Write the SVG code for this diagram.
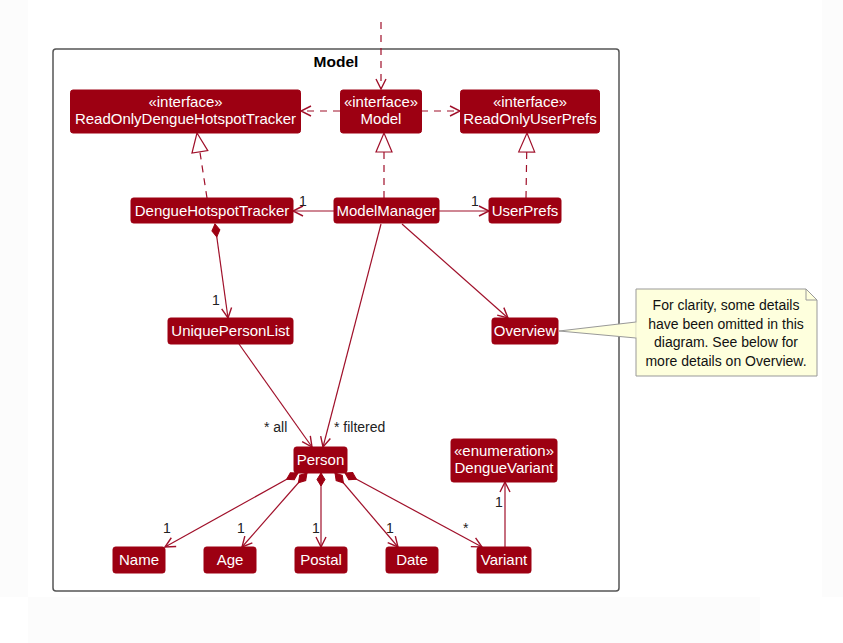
<svg xmlns="http://www.w3.org/2000/svg" width="843" height="643" viewBox="0 0 843 643">
<style>
.n rect{fill:#9D0012;stroke:#9D0012;stroke-width:1}
.n text{fill:#ffffff;font-family:"Liberation Sans",Arial,sans-serif;font-size:15px;text-anchor:middle}
.e{stroke:#A0102A;stroke-width:1.2;fill:none}
.d{stroke-dasharray:7,6}
.ar{marker-end:url(#arr)}
.lb{fill:#222;font-family:"Liberation Sans",Arial,sans-serif;font-size:14px}
</style>
<defs>
<marker id="arr" markerUnits="userSpaceOnUse" orient="auto" refX="0" refY="0" markerWidth="12" markerHeight="12" overflow="visible"><path d="M-10,-5 L0,0 L-10,5" fill="none" stroke="#A0102A" stroke-width="1.4"/></marker>
<marker id="tri" markerUnits="userSpaceOnUse" orient="auto" refX="0" refY="0" markerWidth="20" markerHeight="20" overflow="visible"><path d="M0,0 L-19,-8 L-19,8 Z" fill="#ffffff" stroke="#A0102A" stroke-width="1.2"/></marker>
<marker id="dia" markerUnits="userSpaceOnUse" orient="auto" refX="0" refY="0" markerWidth="14" markerHeight="10" overflow="visible"><path d="M0,0 L6.5,-4 L13,0 L6.5,4 Z" fill="#9D0012" stroke="#9D0012" stroke-width="1"/></marker>
</defs>
<rect x="0" y="0" width="843" height="643" fill="#ffffff"/>
<rect x="0" y="0" width="28" height="597" fill="#fcfcfc"/>
<rect x="822" y="0" width="21" height="597" fill="#fcfcfc"/>
<rect x="28" y="597" width="732" height="46" fill="#fcfcfc"/>

<g id="package-Model">
<rect x="53" y="49" width="566" height="542" rx="3" fill="none" stroke="#555555" stroke-width="1.5"/>
<text x="336" y="67" font-family="Liberation Sans,Arial,sans-serif" font-size="15.5" font-weight="bold" text-anchor="middle" fill="#000">Model</text>
</g>

<g id="edges">
<line class="e d ar" x1="381" y1="22" x2="381" y2="89"/>
<line class="e d ar" x1="340" y1="111" x2="301" y2="111"/>
<line class="e d ar" x1="421" y1="111" x2="460" y2="111"/>
<path class="e d" d="M207,198 L197,133" marker-end="url(#tri)"/>
<path class="e d" d="M384,198 L384,133" marker-end="url(#tri)"/>
<path class="e d" d="M526,198 L527,133" marker-end="url(#tri)"/>
<line class="e ar" x1="334" y1="211" x2="293" y2="211"/>
<line class="e ar" x1="439" y1="211" x2="489" y2="211"/>
<path class="e ar" d="M215,224 L228,318" marker-start="url(#dia)"/>
<line class="e ar" x1="402" y1="224" x2="508" y2="318"/>
<line class="e ar" x1="381" y1="224" x2="323" y2="447"/>
<line class="e ar" x1="239" y1="344" x2="312" y2="447"/>
<path class="e ar" d="M298,473 L165,547" marker-start="url(#dia)"/>
<path class="e ar" d="M307,473 L242,547" marker-start="url(#dia)"/>
<path class="e ar" d="M321,473 L321,547" marker-start="url(#dia)"/>
<path class="e ar" d="M335,473 L398,547" marker-start="url(#dia)"/>
<path class="e ar" d="M345,473 L482,547" marker-start="url(#dia)"/>
<line class="e ar" x1="505" y1="547" x2="505" y2="482"/>
<text class="lb" x="299" y="206">1</text>
<text class="lb" x="471" y="206">1</text>
<text class="lb" x="212" y="305">1</text>
<text class="lb" x="264" y="432">* all</text>
<text class="lb" x="334" y="432">* filtered</text>
<text class="lb" x="163" y="533">1</text>
<text class="lb" x="237" y="533">1</text>
<text class="lb" x="312" y="533">1</text>
<text class="lb" x="386" y="533">1</text>
<text class="lb" x="463" y="533">*</text>
<text class="lb" x="495" y="507">1</text>
<polygon points="636,322 559,331 636,338" fill="#FEFFDD" stroke="#999999" stroke-width="1"/>
</g>

<g id="node-ReadOnlyDengueHotspotTracker" class="n">
<rect x="70.5" y="90" width="230" height="43" rx="2.5"/>
<text x="185.5" y="107">«interface»</text>
<text x="185.5" y="124">ReadOnlyDengueHotspotTracker</text>
</g>
<g id="node-Model" class="n">
<rect x="340.5" y="90" width="81" height="43" rx="2.5"/>
<text x="381" y="107">«interface»</text>
<text x="381" y="124">Model</text>
</g>
<g id="node-ReadOnlyUserPrefs" class="n">
<rect x="460.5" y="90" width="139" height="43" rx="2.5"/>
<text x="530" y="107">«interface»</text>
<text x="530" y="124">ReadOnlyUserPrefs</text>
</g>
<g id="node-DengueHotspotTracker" class="n">
<rect x="131" y="198" width="162" height="25" rx="2.5"/>
<text x="212" y="216">DengueHotspotTracker</text>
</g>
<g id="node-ModelManager" class="n">
<rect x="334" y="198" width="105" height="25" rx="2.5"/>
<text x="386.5" y="216">ModelManager</text>
</g>
<g id="node-UserPrefs" class="n">
<rect x="489" y="198" width="72" height="25" rx="2.5"/>
<text x="525" y="216">UserPrefs</text>
</g>
<g id="node-UniquePersonList" class="n">
<rect x="168" y="318" width="125" height="26" rx="2.5"/>
<text x="230.5" y="336">UniquePersonList</text>
</g>
<g id="node-Overview" class="n">
<rect x="492" y="318" width="66" height="26" rx="2.5"/>
<text x="525" y="336">Overview</text>
</g>
<g id="node-Person" class="n">
<rect x="294" y="447" width="53" height="26" rx="2.5"/>
<text x="320.5" y="465">Person</text>
</g>
<g id="node-DengueVariant" class="n">
<rect x="451" y="439" width="106" height="43" rx="2.5"/>
<text x="504" y="456">«enumeration»</text>
<text x="504" y="473">DengueVariant</text>
</g>
<g id="node-Name" class="n">
<rect x="113" y="547" width="52" height="26" rx="2.5"/>
<text x="139" y="565">Name</text>
</g>
<g id="node-Age" class="n">
<rect x="204" y="547" width="52" height="26" rx="2.5"/>
<text x="230" y="565">Age</text>
</g>
<g id="node-Postal" class="n">
<rect x="295" y="547" width="52" height="26" rx="2.5"/>
<text x="321" y="565">Postal</text>
</g>
<g id="node-Date" class="n">
<rect x="386" y="547" width="52" height="26" rx="2.5"/>
<text x="412" y="565">Date</text>
</g>
<g id="node-Variant" class="n">
<rect x="477" y="547" width="54" height="26" rx="2.5"/>
<text x="504" y="565">Variant</text>
</g>

<g id="note">
<path d="M636,289 L806,289 L817,300 L817,376 L636,376 Z" fill="#FEFFDD" stroke="#999999" stroke-width="1"/>
<path d="M806,289 L806,300 L817,300" fill="none" stroke="#999999" stroke-width="1"/>
<line x1="636" y1="322.5" x2="636" y2="337.5" stroke="#FEFFDD" stroke-width="1.5"/>
<g font-family="Liberation Sans,Arial,sans-serif" font-size="14" fill="#111" text-anchor="middle">
<text x="726" y="310">For clarity, some details</text>
<text x="726" y="329">have been omitted in this</text>
<text x="726" y="347">diagram. See below for</text>
<text x="726" y="366">more details on Overview.</text>
</g>
</g>
</svg>
